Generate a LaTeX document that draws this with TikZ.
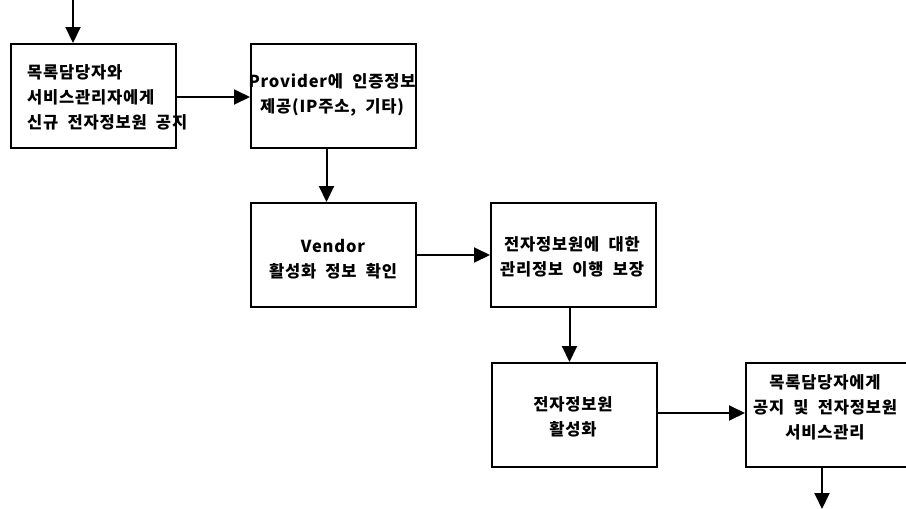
\documentclass[tikz,border=0pt]{standalone}
\usepackage{fontspec}
\newfontfamily\kr[LetterSpace=5,WordSpace=2]{Noto Sans CJK KR}
\usetikzlibrary{arrows.meta}
\begin{document}
\begin{tikzpicture}[x=1pt,y=-1pt,
  box/.style={draw,line width=2pt,minimum width=165pt,minimum height=104pt,inner sep=0pt,anchor=north west},
  txt/.style={font=\kr\bfseries\fontsize{16.5}{25}\selectfont,inner sep=0pt,align=center},
  arr/.style={line width=2pt,-{Triangle[length=16pt,width=15pt]}}]
\useasboundingbox (0,0) rectangle (906,509);
\fill[white] (0,0) rectangle (906,509);
\clip (0,0) rectangle (906,509);
\node[box] (b1) at (10,43) {};
\node[box] (b2) at (250,43) {};
\node[box] (b3) at (250,202) {};
\node[box] (b4) at (490,202) {};
\node[box] (b5) at (491,362) {};
\node[box,minimum width=180pt] (b6) at (745,362) {};
\node[txt,anchor=west,align=left] (t1) at (27,97) {목록담당자와\\서비스관리자에게\\신규 전자정보원 공지};
\node[txt] (t2) at (332,95) {Provider에 인증정보\\제공(IP주소, 기타)};
\node[txt] (t3) at (333,259) {Vendor\\활성화 정보 확인};
\node[txt] (t4) at (572,257) {전자정보원에 대한\\관리정보 이행 보장};
\node[txt] (t5) at (573,417) {전자정보원\\활성화};
\node[txt] (t6) at (825,407) {목록담당자에게\\공지 및 전자정보원\\서비스관리};
\coordinate (top) at (73,0);
\coordinate (bot) at (822,509);
\draw[arr] (top) -- (top |- b1.north);
\draw[arr] (b1.east |- 0,97) -- (b2.west |- 0,97);
\draw[arr] ([xshift=-7pt]b2.south) -- ([xshift=-7pt]b3.north);
\draw[arr] (b3.east |- 0,255) -- (b4.west |- 0,255);
\draw[arr] ([xshift=-4pt]b4.south) -- ([xshift=-5pt]b5.north);
\draw[arr] (b5.east |- 0,413) -- (b6.west |- 0,413);
\draw[arr] (bot |- b6.south) -- (bot);
\end{tikzpicture}
\end{document}
